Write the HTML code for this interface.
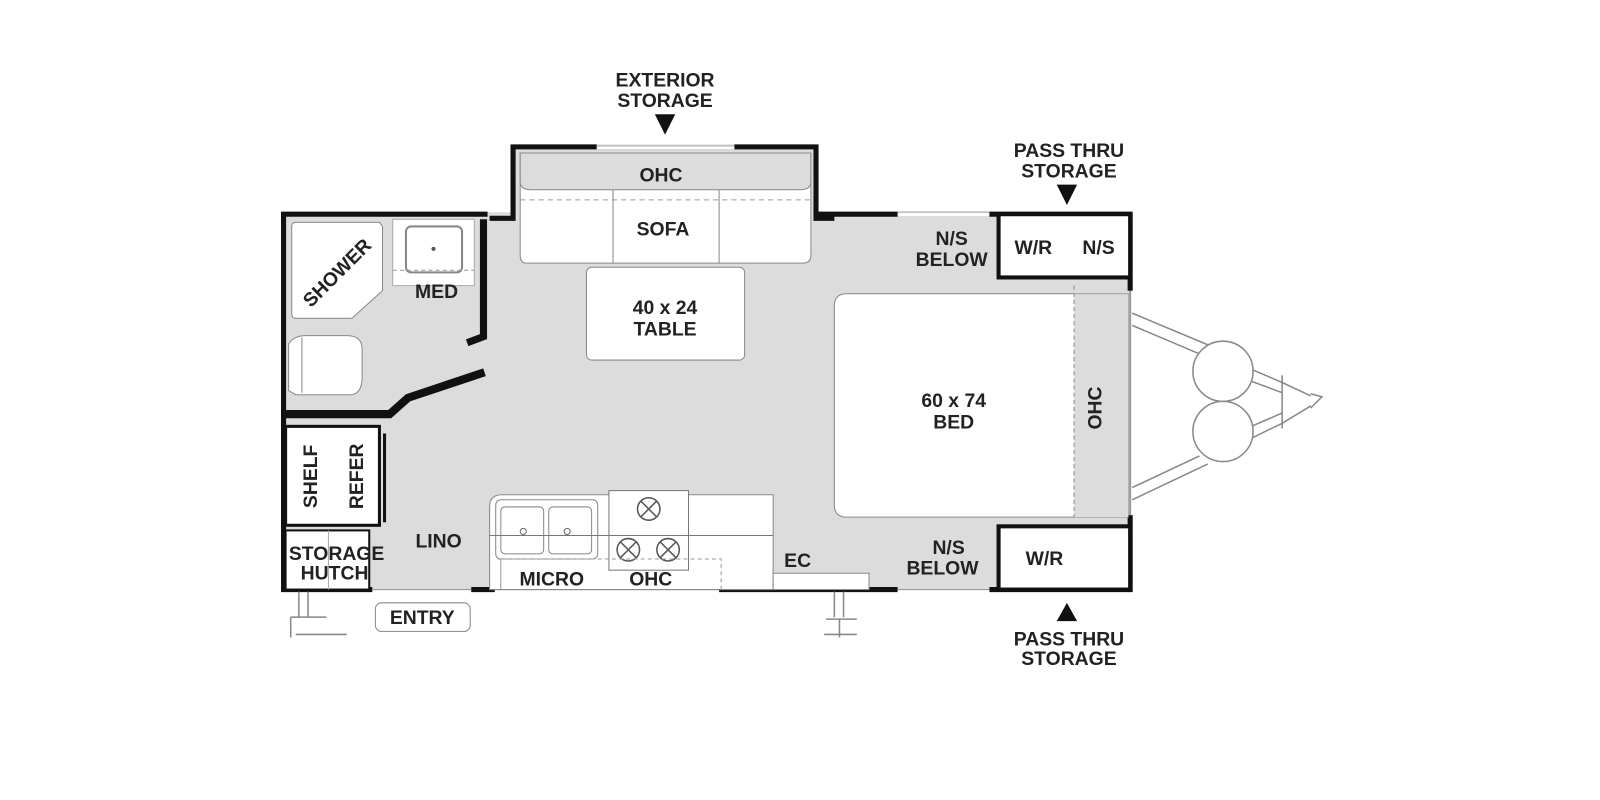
<!DOCTYPE html>
<html><head><meta charset="utf-8"><style>
html,body{margin:0;padding:0;background:#fff;width:1600px;height:800px;overflow:hidden}
text{font-family:"Liberation Sans Narrow","Liberation Sans",sans-serif;font-weight:bold;font-size:19px;fill:#222;text-anchor:middle}
</style></head><body>
<svg width="1600" height="800" viewBox="0 0 1600 800" xmlns="http://www.w3.org/2000/svg">
<g transform="scale(1.02)">
<!-- floor -->
<rect x="276" y="208" width="832" height="370" fill="#dcdcdc"/>
<rect x="503" y="142" width="297" height="70" fill="#dcdcdc"/>
<!-- slide out -->
<path d="M480,214 L503,214 L503,144 L800,144 L800,214 L818,214" fill="none" stroke="#111" stroke-width="5"/>
<line x1="585" y1="144" x2="720" y2="144" stroke="#fff" stroke-width="5"/>
<line x1="585" y1="143" x2="720" y2="143" stroke="#999" stroke-width="1"/>
<!-- sofa -->
<path d="M510,150 L795,150 L795,250 Q795,258 787,258 L516,258 Q510,258 510,250 Z" fill="#fff" stroke="#888"/>
<path d="M510,150 L795,150 L795,178 Q795,186 785,186 L520,186 Q510,186 510,178 Z" fill="#dcdcdc" stroke="#888"/>
<line x1="510" y1="196" x2="795" y2="196" stroke="#999" stroke-dasharray="5,4"/>
<line x1="601" y1="186" x2="601" y2="258" stroke="#888"/>
<line x1="705" y1="186" x2="705" y2="258" stroke="#888"/>
<rect x="575" y="262" width="155" height="91" rx="5" fill="#fff" stroke="#888"/>
<!-- outer walls -->
<path d="M478,210 L278,210 L278,578 L365,578" fill="none" stroke="#111" stroke-width="5"/>
<path d="M800,210 L1108,210 L1108,285" fill="none" stroke="#111" stroke-width="5"/>
<line x1="880" y1="210" x2="970" y2="210" stroke="#fff" stroke-width="5"/>
<line x1="880" y1="208" x2="970" y2="208" stroke="#999"/>
<path d="M1108,505 L1108,578 L970,578" fill="none" stroke="#111" stroke-width="5"/>
<line x1="880" y1="578" x2="705" y2="578" stroke="#111" stroke-width="5"/>
<line x1="880" y1="578" x2="970" y2="578" stroke="#999"/>
<line x1="462" y1="578" x2="485" y2="578" stroke="#111" stroke-width="5"/>
<line x1="485" y1="578" x2="705" y2="578" stroke="#999"/>
<line x1="365" y1="578" x2="462" y2="578" stroke="#999"/>
<line x1="1108" y1="285" x2="1108" y2="505" stroke="#999" stroke-width="2"/>
<!-- bathroom -->
<path d="M286,222 Q286,218 290,218 L372,218 L375,222 L375,285 L345,312 L290,312 Q286,312 286,308 Z" fill="#fff" stroke="#888"/>
<rect x="385" y="215" width="80" height="65" fill="#fff" stroke="#aaa"/>
<rect x="398" y="222" width="55" height="45" rx="5" fill="#fff" stroke="#888" stroke-width="2"/>
<line x1="385" y1="265" x2="465" y2="265" stroke="#999" stroke-dasharray="4,3"/>
<circle cx="425" cy="244" r="2" fill="#555"/>
<path d="M283,337 L283,383 L290,387 L345,387 Q355,385 355,370 L355,342 Q355,329 340,329 L300,329 Q288,329 283,337 Z" fill="#fff" stroke="#888"/>
<line x1="296" y1="331" x2="296" y2="385" stroke="#888"/>
<path d="M474,215 L474,330 L458,336" fill="none" stroke="#111" stroke-width="7"/>
<path d="M278,406 L382,406 L400,390 L475,365" fill="none" stroke="#111" stroke-width="8"/>
<!-- shelf/refer -->
<rect x="280" y="418" width="92" height="97" fill="#fff" stroke="#111" stroke-width="3"/>
<line x1="377" y1="425" x2="377" y2="512" stroke="#111" stroke-width="3"/>
<rect x="280" y="520" width="82" height="58" fill="#fff" stroke="#111" stroke-width="2"/>
<line x1="322" y1="520" x2="322" y2="578" stroke="#aaa"/>
<!-- kitchen -->
<path d="M480,578 L480,497 Q480,485 492,485 L758,485 L758,578 Z" fill="#fff" stroke="#888"/>
<rect x="486" y="490" width="100" height="58" rx="5" fill="#fff" stroke="#888"/>
<rect x="491" y="497" width="42" height="46" rx="4" fill="#fff" stroke="#888"/>
<rect x="538" y="497" width="42" height="46" rx="4" fill="#fff" stroke="#888"/>
<circle cx="513" cy="521" r="3" fill="none" stroke="#666"/>
<circle cx="556" cy="521" r="3" fill="none" stroke="#666"/>
<line x1="480" y1="525" x2="740" y2="525" stroke="#777"/>
<rect x="597" y="481" width="78" height="78" fill="#fff" stroke="#777"/>
<line x1="597" y1="525" x2="690" y2="525" stroke="#777"/>
<line x1="705" y1="525" x2="758" y2="525" stroke="#777"/>
<g fill="none" stroke="#555" stroke-width="1.5">
<circle cx="636" cy="499" r="11"/><path d="M628,491 L644,507 M644,491 L628,507"/>
<circle cx="616" cy="539" r="11"/><path d="M608,531 L624,547 M624,531 L608,547"/>
<circle cx="655" cy="539" r="11"/><path d="M647,531 L663,547 M663,531 L647,547"/>
</g>
<path d="M488,548 L707,548 L707,578" fill="none" stroke="#999" stroke-dasharray="4,3"/>
<line x1="491" y1="548" x2="491" y2="578" stroke="#999"/>
<rect x="758" y="562" width="94" height="16" fill="#fff" stroke="#888"/>
<!-- bed -->
<path d="M830,288 L1106,288 L1106,507 L830,507 Q818,507 818,495 L818,300 Q818,288 830,288 Z" fill="#fff" stroke="#888"/>
<rect x="1053" y="288" width="53" height="219" fill="#dcdcdc"/>
<line x1="1053" y1="280" x2="1053" y2="507" stroke="#888" stroke-dasharray="4,3"/>
<line x1="1053" y1="288" x2="1106" y2="288" stroke="#aaa"/>
<!-- storage boxes -->
<rect x="979" y="210" width="129" height="62" fill="#fff" stroke="#111" stroke-width="4"/>
<rect x="979" y="516" width="129" height="62" fill="#fff" stroke="#111" stroke-width="4"/>
<!-- hitch -->
<g fill="none" stroke="#888" stroke-width="1.5">
<path d="M1110,307 L1184,338 M1110,319 L1176,347"/>
<path d="M1110,490 L1184,455 M1110,478 L1176,447"/>
<path d="M1222,360 L1257,375 L1285,388 M1222,372 L1257,385"/>
<path d="M1222,432 L1257,415 L1285,398 M1222,420 L1257,405"/>
<line x1="1257" y1="368" x2="1257" y2="420"/>
<path d="M1285,386 L1296,389 L1285,400"/>
<circle cx="1199" cy="364" r="29.5" fill="#fff"/>
<circle cx="1199" cy="423" r="29.5" fill="#fff"/>
</g>
<!-- jacks -->
<g fill="none" stroke="#888" stroke-width="1.5">
<path d="M293,580 L293,605 M302,580 L302,605 M285,605 L320,605 M285,605 L285,625 M290,622 L340,622"/>
<path d="M818,580 L818,605 M827,580 L827,605 M810,607 L840,607 M823,607 L823,625 M808,622 L840,622"/>
</g>
<rect x="368" y="591" width="93" height="28" rx="6" fill="#fff" stroke="#888"/>
<!-- arrows -->
<polygon points="642,112 662,112 652,132" fill="#111"/>
<polygon points="1036,181 1056,181 1046,201" fill="#111"/>
<polygon points="1036,609 1056,609 1046,591" fill="#111"/>
<!-- labels -->
<text x="652" y="85">EXTERIOR</text>
<text x="652" y="105">STORAGE</text>
<text x="1048" y="154">PASS THRU</text>
<text x="1048" y="174">STORAGE</text>
<text x="1048" y="633">PASS THRU</text>
<text x="1048" y="652">STORAGE</text>
<text x="648" y="178">OHC</text>
<text x="650" y="231">SOFA</text>
<text x="652" y="308">40 x 24</text>
<text x="652" y="329">TABLE</text>
<text x="933" y="240">N/S</text>
<text x="933" y="261">BELOW</text>
<text x="1013" y="249">W/R</text>
<text x="1077" y="249">N/S</text>
<text x="935" y="399">60 x 74</text>
<text x="935" y="420">BED</text>
<text transform="translate(1080,400) rotate(-90)">OHC</text>
<text x="930" y="543">N/S</text>
<text x="924" y="563">BELOW</text>
<text x="1024" y="554">W/R</text>
<text x="428" y="292">MED</text>
<text transform="translate(335,272) rotate(-45)">SHOWER</text>
<text transform="translate(311,467) rotate(-90)">SHELF</text>
<text transform="translate(356,467) rotate(-90)">REFER</text>
<text x="330" y="549">STORAGE</text>
<text x="328" y="568">HUTCH</text>
<text x="430" y="537">LINO</text>
<text x="541" y="574">MICRO</text>
<text x="638" y="574">OHC</text>
<text x="782" y="556">EC</text>
<text x="414" y="612">ENTRY</text>
</g>
</svg>
</body></html>
